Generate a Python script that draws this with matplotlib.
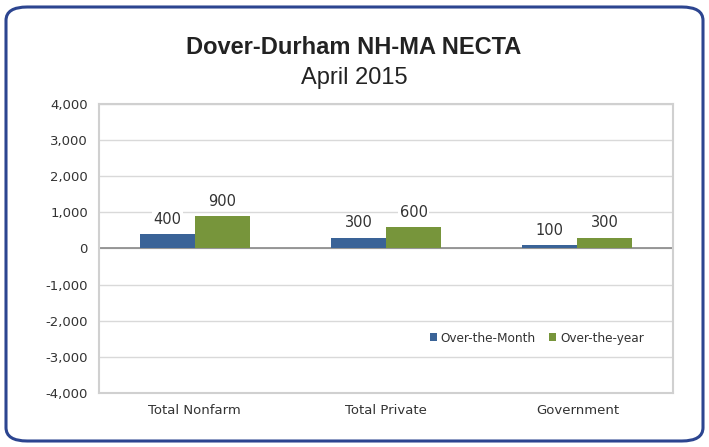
import numpy as np
import matplotlib.pyplot as plt
from matplotlib.patches import FancyBboxPatch

categories = ['Total Nonfarm', 'Total Private', 'Government']
over_month = [400, 300, 100]
over_year = [900, 600, 300]
series_names = ['Over-the-Month', 'Over-the-year']
yticks = [-4000, -3000, -2000, -1000, 0, 1000, 2000, 3000, 4000]

blue = '#3A6397'
green = '#77953B'
txt = '#333333'

fig = plt.figure(figsize=(7.09, 4.47), dpi=100)
border = FancyBboxPatch((6/709, 6/447), 697/709, 434/447,
                        boxstyle='round,pad=0,rounding_size=0.03',
                        transform=fig.transFigure, fill=False,
                        edgecolor='#2C4590', linewidth=2.2)
fig.patches.append(border)

ax = fig.add_axes([99/709, 1 - 393/447, 574/709, 289/447])
x = np.arange(len(categories))
w = 0.288
b1 = ax.bar(x - w/2, over_month, w, color=blue, label=series_names[0], zorder=3)
b2 = ax.bar(x + w/2, over_year, w, color=green, label=series_names[1], zorder=3)

for bars in (b1, b2):
    for r in bars:
        ax.text(r.get_x() + r.get_width()/2, r.get_height() + 200,
                f'{int(r.get_height()):,}', ha='center', va='bottom',
                fontsize=10.5, color=txt, zorder=4,
                bbox=dict(facecolor='white', edgecolor='none', pad=1))

ax.set_xlim(-0.5, 2.5)
ax.set_ylim(-4000, 4000)
ax.set_yticks(yticks)
ax.set_yticklabels([f'{v:,}' for v in yticks], fontsize=9.5, color=txt)
ax.set_xticks(x)
ax.set_xticklabels(categories, fontsize=9.5, color=txt)
ax.tick_params(length=0, pad=8)
ax.grid(axis='y', color='#D9D9D9', linewidth=1, zorder=0)
ax.axhline(0, color='#888888', linewidth=1.2, zorder=2)
for s in ax.spines.values():
    s.set_color('#D0D0D0')
    s.set_linewidth(1.5)

ax.legend(loc='lower right', bbox_to_anchor=(0.968, 0.13), ncol=2, frameon=False,
          fontsize=8.7, handlelength=0.6, handleheight=0.6, handletextpad=0.3,
          columnspacing=1.1, labelcolor=txt)

fig.text(354/709, 1 - 48/447, 'Dover-Durham NH-MA NECTA', ha='center', va='center',
         fontsize=17, fontweight='bold', color='#222222',
         family=['Liberation Sans', 'DejaVu Sans'])
fig.text(354/709, 1 - 78/447, 'April 2015', ha='center', va='center',
         fontsize=17, color='#222222',
         family=['Liberation Sans', 'DejaVu Sans'])

fig.savefig('out.png', dpi=100)
